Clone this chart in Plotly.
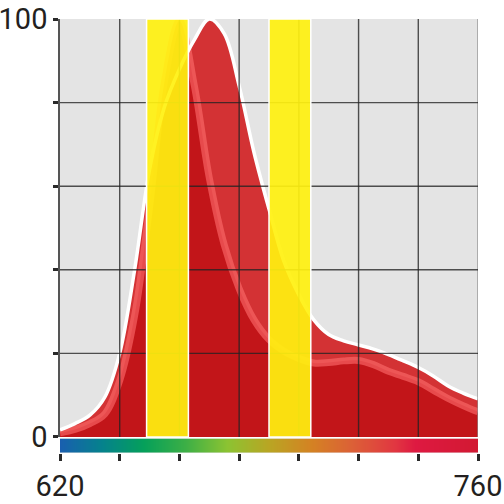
import plotly.graph_objects as go

# wavelength grid (nm) and the two spectra
wavelength = [620, 625, 630, 635, 640, 645, 650, 655, 660, 665,
              670, 675, 680, 685, 690, 695, 700, 705, 710, 715,
              720, 725, 730, 735, 740, 745, 750, 755, 760]
envelope = [1.7, 3.2, 5.2, 9.5, 20, 40, 64, 79, 88, 95,
            100, 96.5, 84, 68, 54.5, 42, 34, 28, 24.5, 23,
            22, 21, 19.7, 18.2, 16.6, 14.6, 12.2, 10.5, 9.1]
emission = [1.0, 1.8, 3.2, 5.5, 13.5, 29, 55, 85, 99.5, 84,
            62, 46, 35.5, 28, 23.3, 20.5, 18.8, 17.7, 17.8, 18.2,
            18.3, 17.3, 15.7, 14.5, 13.2, 11.2, 9.2, 7.5, 6.0]

# filter pass bands (nm)
band_starts = [649, 690]
band_ends = [663, 704]

x_ticks = [620, 640, 660, 680, 700, 720, 740, 760]
x_tick_text = ["620", "", "", "", "", "", "", "760"]
y_ticks = [0, 20, 40, 60, 80, 100]
y_tick_text = ["0", "", "", "", "", "100"]

TEXT = "#231f20"
GRID = "rgba(35,35,35,0.78)"
FONT = dict(family="Roboto, sans-serif", size=29, color=TEXT)

SPECTRUM_SCALE = [
    [0.0, "rgb(25,95,175)"],
    [0.1, "rgb(5,130,140)"],
    [0.2, "rgb(5,160,90)"],
    [0.3, "rgb(60,175,70)"],
    [0.4, "rgb(140,195,50)"],
    [0.5, "rgb(185,165,35)"],
    [0.6, "rgb(212,130,35)"],
    [0.7, "rgb(220,95,55)"],
    [0.8, "rgb(225,55,65)"],
    [0.85, "rgb(222,25,65)"],
    [1.0, "rgb(210,25,50)"],
]

fig = go.Figure()

# outer envelope fill
fig.add_trace(go.Scatter(
    x=wavelength, y=envelope, mode="lines",
    line=dict(width=0, shape="spline"),
    fill="tozeroy", fillcolor="rgba(208,30,32,0.9)",
    hoverinfo="skip", showlegend=False,
))
# inner emission curve
fig.add_trace(go.Scatter(
    x=wavelength, y=emission, mode="lines",
    line=dict(color="rgba(255,110,110,0.6)", width=7, shape="spline"),
    fill="tozeroy", fillcolor="rgba(188,12,16,0.75)",
    showlegend=False,
))
# white outline on top
fig.add_trace(go.Scatter(
    x=wavelength, y=envelope, mode="lines",
    line=dict(color="white", width=3.5, shape="spline"),
    showlegend=False,
))
# visible-spectrum strip under the plot
fig.add_trace(go.Heatmap(
    x=x_ticks, y=[0, 1], z=[x_ticks, x_ticks],
    colorscale=SPECTRUM_SCALE, zmin=x_ticks[0], zmax=x_ticks[-1],
    zsmooth="best", showscale=False, hoverinfo="skip",
    xaxis="x", yaxis="y2",
))

# grid drawn above the fills
for v in x_ticks[1:-1]:
    fig.add_shape(type="line", xref="x", yref="y", x0=v, x1=v, y0=0, y1=100,
                  line=dict(color=GRID, width=1.4), layer="above")
fig.add_shape(type="line", xref="x", yref="y", x0=x_ticks[-1], x1=x_ticks[-1], y0=0, y1=100,
              line=dict(color="rgba(140,140,140,0.9)", width=1.4), layer="above")
for v in y_ticks[1:-1]:
    fig.add_shape(type="line", xref="x", yref="y", x0=x_ticks[0], x1=x_ticks[-1], y0=v, y1=v,
                  line=dict(color=GRID, width=1.4), layer="above")

# yellow filter bands
for a, b in zip(band_starts, band_ends):
    fig.add_shape(type="rect", xref="x", yref="y", x0=a, x1=b, y0=0, y1=100,
                  fillcolor="rgba(255,241,15,0.92)",
                  line=dict(color="white", width=1.5), layer="above")

fig.update_layout(
    template="none",
    width=504, height=504,
    margin=dict(l=60, r=26, t=19, b=51),
    paper_bgcolor="white",
    plot_bgcolor="#e4e4e4",
    font=FONT,
    showlegend=False,
    xaxis=dict(
        range=[x_ticks[0], x_ticks[-1]], domain=[0, 1], anchor="y2",
        tickvals=x_ticks, ticktext=x_tick_text,
        ticks="outside", ticklen=7, tickwidth=2.5, tickcolor="#2a2a2a",
        showgrid=False, zeroline=False, showline=False,
        tickfont=FONT, automargin=False, ticklabeloverflow="allow",
    ),
    yaxis=dict(
        range=[0, 100], domain=[0.037, 1], anchor="x",
        tickvals=y_ticks, ticktext=y_tick_text,
        ticks="outside", ticklen=5, tickwidth=2.5, tickcolor="#2a2a2a",
        showgrid=False, zeroline=False,
        showline=True, linecolor="#555555", linewidth=1.5,
        tickfont=FONT, automargin=False, ticklabeloverflow="allow",
    ),
    yaxis2=dict(
        range=[0, 1], domain=[0, 0.0334], anchor="x",
        visible=False, showgrid=False, zeroline=False,
    ),
)

# drop the page's default 8px body margin so the figure sits flush in the window
fig.write_html(
    "out.html",
    config={"displayModeBar": False},
    post_script="document.body.style.margin = '0';",
)
